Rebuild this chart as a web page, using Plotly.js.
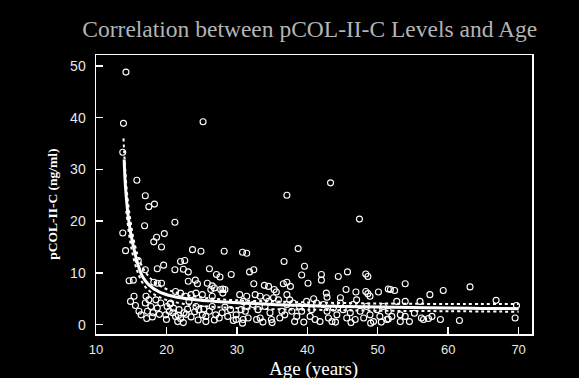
<!DOCTYPE html>
<html>
<head>
<meta charset="utf-8">
<script src="https://cdn.plot.ly/plotly-3.0.1.min.js"></script>
<style>html,body{margin:0;padding:0;background:#000;}#chart{width:579px;height:378px;}</style>
</head>
<body>
<div id="chart"></div>
<script>
// Observed samples: age (years) and pCOL-II-C level (ng/ml)
var ages = [
14.25,13.9,25.2,13.8,15.8,17.0,17.5,18.3,43.3,37.1,47.4,21.2,16.9,19.7,13.8,18.6,18.2,
19.3,14.2,23.7,24.9,28.2,30.8,31.4,16.0,19.6,22.0,22.6,17.0,18.7,21.2,22.4,23.1,26.1,27.1,27.6,29.2,
14.7,15.3,18.2,18.7,19.3,23.1,24.1,24.4,25.8,26.5,28.0,28.3,
38.7,36.7,39.6,31.8,32.4,39.2,42.0,42.0,44.4,45.7,48.3,48.6,40.1,
32.4,33.9,34.5,35.3,36.6,37.1,37.6,35.6,37.1,42.7,45.5,46.9,48.3,48.6,50.1,51.5,
53.9,51.8,52.4,57.4,59.3,63.1,66.8,69.7,69.5,61.6,58.9,57.2,56.5,56.2,57.7,
53.9,56.0,52.7,53.2,53.9,53.2,52.0,51.5,
15.4,14.9,15.6,16.1,16.4,17.1,17.5,17.0,17.8,17.3,18.5,19.2,18.7,18.1,
20.1,20.4,19.9,20.9,21.3,21.8,22.5,20.6,21.3,22.0,22.7,23.5,24.2,
23.2,24.2,24.6,25.1,25.6,26.1,26.5,27.0,27.5,27.9,28.7,29.1,29.9,30.6,
25.1,26.3,26.8,27.7,28.0,26.5,21.6,22.4,25.6,29.9,30.8,
30.9,31.4,31.2,31.6,30.9,32.6,32.3,33.0,33.3,32.8,34.2,34.0,34.7,34.9,34.5,
35.9,36.4,36.1,36.8,37.1,38.0,37.8,38.5,38.2,38.9,39.2,39.9,40.4,40.6,41.3,41.1,
42.3,42.8,43.0,43.7,44.2,43.5,44.7,45.1,45.6,46.1,46.5,46.8,
47.5,48.0,48.4,48.9,49.4,49.9,50.3,50.8,51.3,51.5,
30.4,31.4,33.3,35.2,37.5,40.9,42.8,44.7,47.0,48.9,
20.0,21.0,22.0,23.0,23.5,24.5,19.0,18.0,17.2,20.5,21.7,22.8,24.0,25.3,26.8,28.3,29.5,
33.7,35.0,39.5,41.8,44.0,46.2,49.0,50.5,54.5,55.2
];
var levels = [
48.8,38.9,39.2,33.3,27.9,24.9,22.8,23.3,27.4,25.0,20.4,19.8,19.1,17.6,17.7,16.9,16.0,
15.0,14.3,14.5,14.2,14.2,14.0,13.8,12.4,11.5,12.2,12.4,10.6,10.8,10.6,10.7,10.2,10.8,9.7,9.2,9.7,
8.5,8.6,8.2,8.0,8.0,8.4,8.6,7.9,8.0,7.5,6.9,6.8,
14.7,12.2,11.3,10.2,10.6,9.6,9.7,8.6,9.3,10.2,9.8,9.3,8.0,
7.9,7.6,7.4,6.8,7.9,8.2,7.4,6.3,5.8,6.1,6.8,6.3,6.4,6.0,6.3,6.9,
7.9,6.8,6.6,5.8,6.6,7.3,4.7,3.7,1.3,0.8,1.0,1.2,1.0,1.3,1.6,
4.5,4.5,4.5,1.9,1.6,0.6,1.6,1.1,
5.5,4.5,3.7,2.6,1.9,5.5,4.8,4.2,3.5,2.6,4.8,4.2,3.2,2.3,
3.5,2.6,1.9,2.3,1.6,2.9,2.3,4.2,6.4,6.1,5.5,5.8,6.1,
4.5,3.5,2.9,1.9,1.6,2.6,3.5,1.9,1.3,2.3,1.6,2.9,1.9,2.9,
5.8,6.8,7.1,6.8,6.1,5.5,0.6,0.4,0.6,1.0,0.3,
4.5,3.5,2.6,1.3,1.0,5.8,3.9,2.9,1.3,1.0,5.2,3.5,2.3,1.0,4.5,
4.8,2.6,1.3,1.9,3.9,4.2,2.6,1.6,0.6,3.5,2.6,4.5,1.6,2.9,4.2,1.0,
3.9,2.6,1.3,3.2,1.9,0.6,4.2,2.9,1.3,2.3,3.9,1.0,
2.6,1.3,3.5,1.9,0.6,2.9,1.6,3.5,1.0,2.6,
5.8,5.5,5.5,5.2,4.8,5.0,5.3,5.2,4.8,5.5,
1.0,3.2,1.2,3.0,1.5,0.9,2.0,1.5,1.2,4.0,1.8,2.0,2.5,3.0,0.9,3.4,0.8,
0.5,0.4,0.5,0.6,0.5,0.4,0.3,0.5,0.6,2.2
];
// Fitted curve and its band
var fitAge = [14.0,14.2,14.7,15.2,15.9,16.6,17.5,18.9,20.9,24.2,27,30.8,35,40,45,50,55,60,65,70];
var fitLevel = [31.9,26.4,19.6,15.8,11.9,9.3,7.7,6.4,5.5,4.8,4.5,4.2,3.9,3.7,3.5,3.4,3.3,3.2,3.15,3.1];
var upperAge = [13.9,14.1,14.4,14.9,15.5,16.3,17.2,18.5,20.5,23,26,30,35,40,50,60,70];
var upperLevel = [36.0,31.0,25.5,20.0,15.5,12.0,9.8,8.0,6.6,5.7,5.1,4.7,4.5,4.3,4.1,4.0,4.0];
var lowerAge = [14.3,14.8,15.4,16.1,17.0,18.2,20.0,22.5,25,30,35,40,50,60,70];
var lowerLevel = [22.0,16.5,12.5,9.5,7.3,5.9,4.8,4.0,3.6,3.2,3.0,2.9,2.7,2.6,2.5];
var xTicks = [10,20,30,40,50,60,70];
var yTicks = [0,10,20,30,40,50];

var traces = [
  {x: ages, y: levels, mode: 'markers', type: 'scatter',
   marker: {symbol: 'circle-open', size: 6, color: '#ffffff', line: {width: 1.1, color: '#ffffff'}},
   hoverinfo: 'skip'},
  {x: upperAge, y: upperLevel, mode: 'lines', type: 'scatter', line: {color: '#ffffff', width: 2, dash: 'dot', shape: 'spline'}},
  {x: lowerAge, y: lowerLevel, mode: 'lines', type: 'scatter', line: {color: '#ffffff', width: 2, dash: 'dot', shape: 'spline'}},
  {x: fitAge, y: fitLevel, mode: 'lines', type: 'scatter', line: {color: '#ffffff', width: 3, shape: 'spline'}}
];

var layout = {
  width: 579, height: 378,
  paper_bgcolor: '#000000', plot_bgcolor: '#000000',
  showlegend: false,
  margin: {l: 96, r: 47, t: 55, b: 44},
  title: {text: 'Correlation between pCOL-II-C Levels and Age', x: 0.535, xanchor: 'center', y: 0.925, yanchor: 'middle',
          font: {family: 'Liberation Serif, serif', size: 23.5, color: '#b4b4b4'}},
  xaxis: {range: [10, 71.9], tickvals: xTicks, ticktext: xTicks.map(String), showgrid: false, zeroline: false,
          showline: true, linecolor: '#ffffff', linewidth: 1.5, mirror: true,
          ticks: 'inside', ticklen: 7, tickcolor: '#ffffff', tickwidth: 1.5, ticklabelstandoff: 3,
          tickfont: {family: 'Liberation Sans, Arial, sans-serif', size: 13, color: '#e8e8e8'}},
  yaxis: {range: [-1.8, 52.1], tickvals: yTicks, ticktext: yTicks.map(String), showgrid: false, zeroline: false,
          showline: true, linecolor: '#ffffff', linewidth: 1.5, mirror: true,
          ticks: 'inside', ticklen: 7, tickcolor: '#ffffff', tickwidth: 1.5, ticklabelstandoff: 6,
          tickfont: {family: 'Liberation Sans, Arial, sans-serif', size: 14, color: '#e8e8e8'}},
  annotations: [
    {text: 'Age (years)', xref: 'paper', yref: 'paper', x: 0.498, y: -0.127, xanchor: 'center', yanchor: 'middle',
     showarrow: false, font: {family: 'Liberation Serif, serif', size: 19, color: '#ffffff'}},
    {text: '<b>pCOL-II-C (ng/ml)</b>', xref: 'paper', yref: 'paper', x: -0.099, y: 0.466, xanchor: 'center', yanchor: 'middle',
     textangle: -90, showarrow: false, font: {family: 'Liberation Serif, serif', size: 13.5, color: '#ffffff'}}
  ]
};

Plotly.newPlot('chart', traces, layout, {staticPlot: true, displayModeBar: false});
</script>
</body>
</html>
